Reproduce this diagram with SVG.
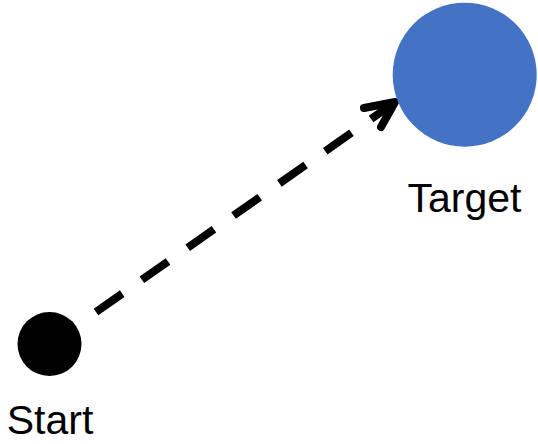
<svg xmlns="http://www.w3.org/2000/svg" width="538" height="444" viewBox="0 0 538 444">
<style>
.lbl{font-family:"Liberation Sans","DejaVu Sans",sans-serif;font-size:41px;fill:#000;text-anchor:middle}
.conn{stroke:#000;stroke-width:8;fill:none}
</style>
<rect width="538" height="444" fill="#fff"/>
<g id="connectors">
<line class="conn" x1="96" y1="312" x2="394" y2="103" stroke-dasharray="32 24"/>
<path class="conn" d="M364,108 L395,102 L381,127" stroke-linecap="round" stroke-linejoin="round"/>
</g>
<g id="target">
<circle cx="464.7" cy="74.7" r="72" fill="#4472C4"/>
<text class="lbl" x="464.5" y="212">Target</text>
</g>
<g id="start">
<circle cx="49.5" cy="344" r="32" fill="#000"/>
<text class="lbl" x="50" y="434" font-size="40">Start</text>
</g>
</svg>
